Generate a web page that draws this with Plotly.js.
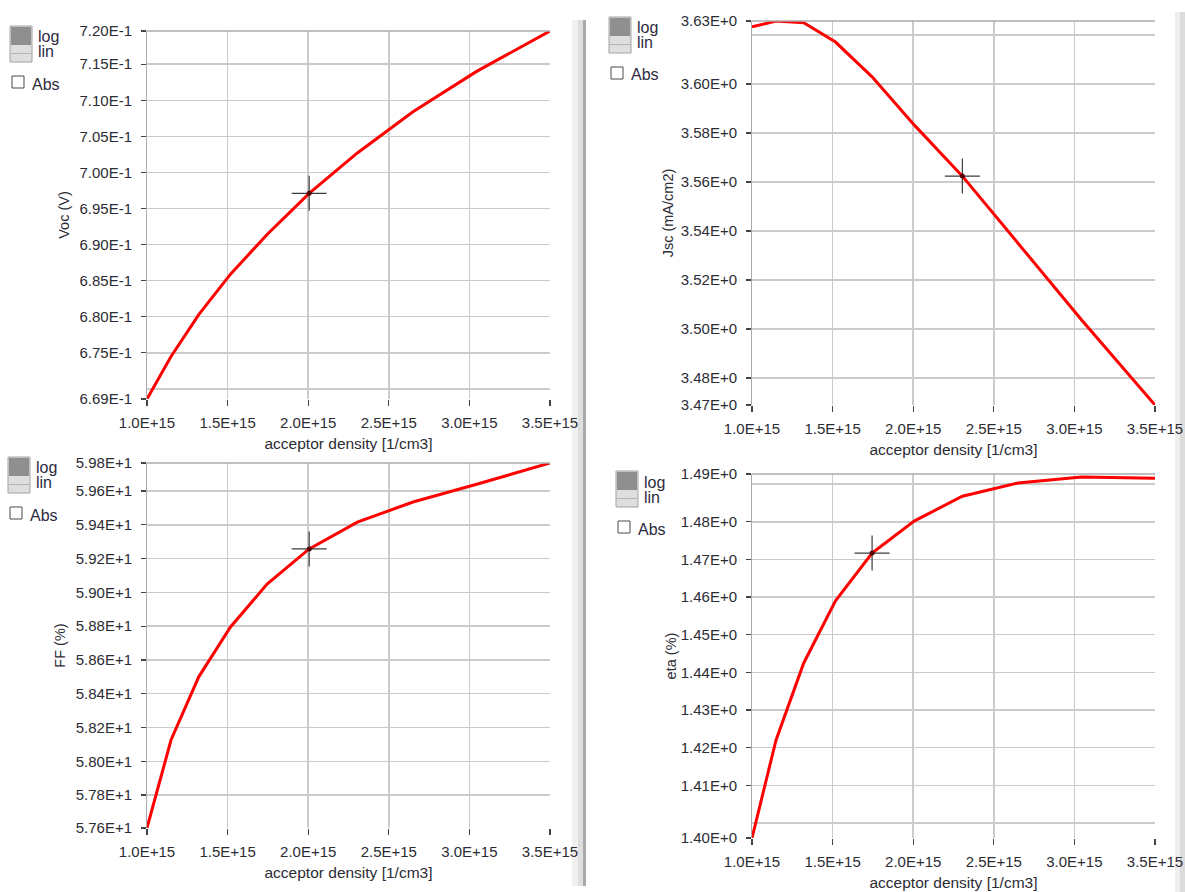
<!DOCTYPE html>
<html><head><meta charset="utf-8">
<script src="https://cdn.plot.ly/plotly-3.0.1.min.js"></script>
<style>html,body{margin:0;padding:0;background:#fff;}#chart{width:1185px;height:892px;}</style>
</head><body><div id="chart"></div>
<script>
const W = 1185, H = 892;

// ---- data ----
const acceptorDensity = [1.000e15, 1.149e15, 1.321e15, 1.518e15, 1.745e15, 2.006e15, 2.305e15, 2.650e15, 3.045e15, 3.500e15];
const vocValues = [0.6686, 0.6745, 0.6803, 0.6859, 0.6914, 0.6971, 0.7027, 0.7084, 0.7140, 0.7196];
const jscValues = [3.6233, 3.6257, 3.6250, 3.6171, 3.6029, 3.5833, 3.5624, 3.5351, 3.5037, 3.4690];
const ffValues  = [57.605, 58.126, 58.500, 58.795, 59.049, 59.257, 59.416, 59.535, 59.640, 59.766];
const etaValues = [1.3960, 1.4220, 1.4425, 1.4590, 1.4717, 1.4802, 1.4868, 1.4903, 1.4919, 1.4916];
const selectedIndex = [5, 6, 5, 4];

const xTickVals = [1.0e15, 1.5e15, 2.0e15, 2.5e15, 3.0e15, 3.5e15];
const xTickText = ['1.0E+15', '1.5E+15', '2.0E+15', '2.5E+15', '3.0E+15', '3.5E+15'];
const xGridVals = [1.5e15, 2.0e15, 2.5e15, 3.0e15];

const vocTickVals = [0.6686, 0.675, 0.680, 0.685, 0.690, 0.695, 0.700, 0.705, 0.710, 0.715, 0.7196];
const vocTickText = ['6.69E-1', '6.75E-1', '6.80E-1', '6.85E-1', '6.90E-1', '6.95E-1', '7.00E-1', '7.05E-1', '7.10E-1', '7.15E-1', '7.20E-1'];
const vocGridVals = [0.670, 0.675, 0.680, 0.685, 0.690, 0.695, 0.700, 0.705, 0.710, 0.715];

const jscTickVals = [3.4690, 3.48, 3.50, 3.52, 3.54, 3.56, 3.58, 3.60, 3.6257];
const jscTickText = ['3.47E+0', '3.48E+0', '3.50E+0', '3.52E+0', '3.54E+0', '3.56E+0', '3.58E+0', '3.60E+0', '3.63E+0'];
const jscGridVals = [3.48, 3.50, 3.52, 3.54, 3.56, 3.58, 3.60, 3.62];

const ffTickVals = [57.605, 57.8, 58.0, 58.2, 58.4, 58.6, 58.8, 59.0, 59.2, 59.4, 59.6, 59.766];
const ffTickText = ['5.76E+1', '5.78E+1', '5.80E+1', '5.82E+1', '5.84E+1', '5.86E+1', '5.88E+1', '5.90E+1', '5.92E+1', '5.94E+1', '5.96E+1', '5.98E+1'];
const ffGridVals = [57.8, 58.0, 58.2, 58.4, 58.6, 58.8, 59.0, 59.2, 59.4, 59.6];

const etaTickVals = [1.3960, 1.41, 1.42, 1.43, 1.44, 1.45, 1.46, 1.47, 1.48, 1.4927];
const etaTickText = ['1.40E+0', '1.41E+0', '1.42E+0', '1.43E+0', '1.44E+0', '1.45E+0', '1.46E+0', '1.47E+0', '1.48E+0', '1.49E+0'];
const etaGridVals = [1.40, 1.41, 1.42, 1.43, 1.44, 1.45, 1.46, 1.47, 1.48, 1.49];

const xTitle = 'acceptor density [1/cm3]';
const yTitles = ['Voc (V)', 'Jsc (mA/cm2)', 'FF (%)', 'eta (%)'];

// ---- layout geometry (pixels) ----
const panels = [
  {vals: vocValues, tv: vocTickVals, tt: vocTickText, gv: vocGridVals, range: [0.6686, 0.7196], box: [147, 31, 550, 399], leg: [10, 26], ys: 6},
  {vals: jscValues, tv: jscTickVals, tt: jscTickText, gv: jscGridVals, range: [3.4690, 3.6257], box: [752, 21, 1155, 405], leg: [609, 17], ys: 3},
  {vals: ffValues,  tv: ffTickVals,  tt: ffTickText,  gv: ffGridVals,  range: [57.605, 59.766], box: [147, 463, 550, 828], leg: [8, 457], ys: 6},
  {vals: etaValues, tv: etaTickVals, tt: etaTickText, gv: etaGridVals, range: [1.3960, 1.4927], box: [752, 474, 1155, 838], leg: [616, 471], ys: 0}
];

const FONT = 'Liberation Sans, Arial, sans-serif';
const TXT = '#2c2c34';
const px = v => v / W;
const py = v => 1 - v / H;
const id = (p, k) => (k === 1 ? p : p + k);
const key = (p, k) => p + 'axis' + (k === 1 ? '' : k);

const data = [];
const layout = {
  width: W, height: H, margin: {l: 0, r: 0, t: 0, b: 0},
  paper_bgcolor: '#ffffff', plot_bgcolor: 'rgba(0,0,0,0)',
  showlegend: false, hovermode: false,
  font: {family: FONT, size: 15, color: TXT},
  shapes: [], annotations: []
};

panels.forEach((p, i) => {
  const k = i + 1, ko = i + 5;
  const xd = [px(p.box[0]), px(p.box[2])];
  const yd = [py(p.box[3]), py(p.box[1])];
  const xr = [1.0e15, 3.5e15];

  // base axes: grid only
  layout[key('x', k)] = {domain: xd, range: xr, anchor: id('y', k), tickmode: 'array', tickvals: xGridVals,
    showticklabels: false, ticks: '', showgrid: true, gridcolor: '#cbcbcb', gridwidth: 1.5,
    zeroline: false, showline: false, fixedrange: true};
  layout[key('y', k)] = {domain: yd, range: p.range, anchor: id('x', k), tickmode: 'array', tickvals: p.gv,
    showticklabels: false, ticks: '', showgrid: true, gridcolor: '#cbcbcb', gridwidth: 1.5,
    zeroline: false, showline: true, linecolor: '#ababab', linewidth: 1.5, fixedrange: true};

  // overlay axes: ticks + labels + titles
  layout[key('x', ko)] = {overlaying: id('x', k), anchor: id('y', k), range: xr, tickmode: 'array',
    tickvals: xTickVals, ticktext: xTickText, ticks: 'outside', ticklen: 6, tickwidth: 1.2, tickcolor: '#444',
    ticklabelstandoff: 4, showgrid: false, zeroline: false, showline: false, fixedrange: true,
    tickfont: {family: FONT, size: 15, color: TXT},
    title: {text: xTitle, standoff: 8, font: {family: FONT, size: 15.5, color: TXT}}};
  layout[key('y', ko)] = {overlaying: id('y', k), anchor: id('x', k), side: 'left', range: p.range, tickmode: 'array',
    tickvals: p.tv, ticktext: p.tt, ticks: 'outside', ticklen: 5, tickwidth: 1.2, tickcolor: '#444',
    ticklabelstandoff: 6, showgrid: false, zeroline: false, showline: false, fixedrange: true,
    tickfont: {family: FONT, size: 15, color: TXT},
    title: {text: yTitles[i], standoff: p.ys, font: {family: FONT, size: 14.5, color: TXT}}};

  // invisible copies so the overlay axes get drawn
  data.push({type: 'scatter', mode: 'lines', x: acceptorDensity, y: p.vals, xaxis: id('x', ko), yaxis: id('y', k),
    opacity: 0, line: {width: 0}, hoverinfo: 'skip'});
  data.push({type: 'scatter', mode: 'lines', x: acceptorDensity, y: p.vals, xaxis: id('x', k), yaxis: id('y', ko),
    opacity: 0, line: {width: 0}, hoverinfo: 'skip'});

  // top frame line
  layout.shapes.push({type: 'line', xref: id('x', k) + ' domain', yref: id('y', k) + ' domain',
    x0: 0, x1: 1, y0: 1, y1: 1, line: {color: '#ababab', width: 1.5}});

  // curve
  data.push({type: 'scatter', mode: 'lines', x: acceptorDensity, y: p.vals,
    xaxis: id('x', k), yaxis: id('y', k), line: {color: '#ff0000', width: 3}, hoverinfo: 'skip'});
  // crosshair cursor at the selected point
  const s = selectedIndex[i];
  data.push({type: 'scatter', mode: 'markers', x: [acceptorDensity[s]], y: [p.vals[s]],
    xaxis: id('x', k), yaxis: id('y', k),
    marker: {symbol: 'cross-thin', size: 25, line: {color: '#3c3c3c', width: 1.2}}, hoverinfo: 'skip'});
  data.push({type: 'scatter', mode: 'markers', x: [acceptorDensity[s]], y: [p.vals[s]],
    xaxis: id('x', k), yaxis: id('y', k),
    marker: {symbol: 'circle', size: 5, color: '#5a0000'}, hoverinfo: 'skip'});

  // log / lin toggle and Abs checkbox
  const bx = p.leg[0], by = p.leg[1];
  const rect = (x0, y0, x1, y1, fill, lc, lw) => layout.shapes.push({type: 'rect', xref: 'paper', yref: 'paper',
    x0: px(x0), x1: px(x1), y0: py(y1), y1: py(y0), fillcolor: fill, line: {color: lc, width: lw}});
  rect(bx, by, bx + 22, by + 36, '#dedede', '#a2a2a2', 1);
  rect(bx + 1, by + 1, bx + 21, by + 19, '#8f8f8f', '#8f8f8f', 0);
  rect(bx + 1, by + 27, bx + 21, by + 28, '#b4b4b4', '#b4b4b4', 0);
  rect(bx + 2, by + 50, bx + 14, by + 62, '#ffffff', '#4a4a4a', 1);
  const label = (t, x, y) => layout.annotations.push({text: t, xref: 'paper', yref: 'paper', x: px(x), y: py(y),
    xanchor: 'left', yanchor: 'middle', showarrow: false, font: {family: FONT, size: 16, color: '#2e2a40'}});
  label('log', bx + 26, by + 11);
  label('lin', bx + 26, by + 26);
  label('Abs', bx + 20, by + 58);
});

// window separators (grey screenshot borders)
const sep = (x0, y0, x1, y1, fill) => layout.shapes.push({type: 'rect', xref: 'paper', yref: 'paper', layer: 'below',
  x0: px(x0), x1: px(x1), y0: py(y1), y1: py(y0), fillcolor: fill, line: {width: 0}});
sep(572, 20, 578, 886, '#f0f0f0');
sep(578, 20, 583, 886, '#dedede');
sep(583, 20, 586, 886, '#a9a9a9');
sep(1175, 12, 1180, 892, '#eeeeee');
sep(1180, 12, 1185, 892, '#dcdcdc');

Plotly.newPlot('chart', data, layout, {displayModeBar: false, staticPlot: true});
</script></body></html>
